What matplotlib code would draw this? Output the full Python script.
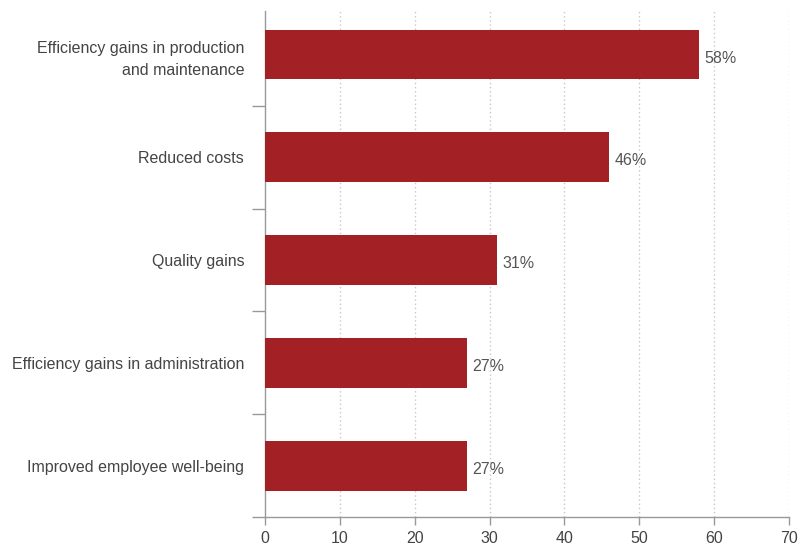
import matplotlib
matplotlib.use('Agg')
import matplotlib.pyplot as plt

categories = ['Efficiency gains in production\nand maintenance',
              'Reduced costs',
              'Quality gains',
              'Efficiency gains in administration',
              'Improved employee well-being']
values = [58, 46, 31, 27, 27]
xticks = [0, 10, 20, 30, 40, 50, 60, 70]

plt.rcParams['font.family'] = ['Liberation Sans', 'DejaVu Sans']

fig = plt.figure(figsize=(7.99, 5.47), dpi=100)
ax = fig.add_axes([265/799, 30/547, 524/799, 506/547])

pos = list(range(len(categories)))
ax.barh(pos, values, height=0.486, color='#a32024', zorder=3)

for p, v in zip(pos, values):
    ax.text(v + 0.7, p + 0.02, str(v) + '%', va='center_baseline', ha='left',
            fontsize=11.5, color='#555555')

ax.set_xlim(0, 70)
ax.set_ylim(4.5, -0.423)
ax.set_xticks(xticks)
ax.set_xticklabels([str(t) for t in xticks], fontsize=11.5, color='#444444')

# category labels sit between the boundary ticks
ax.set_yticks([0.5, 1.5, 2.5, 3.5, 4.5])
ax.set_yticklabels([])
ax.set_yticks(pos, minor=True)
ax.set_yticklabels(categories, minor=True, fontsize=11.5, color='#444444',
                   ha='right', linespacing=1.55)
ax.tick_params(axis='y', which='minor', length=0, pad=15)
ax.tick_params(axis='y', which='major', length=9.5, color='#999999', width=1)
ax.tick_params(axis='x', length=6, color='#999999', width=1, pad=4)

for x in xticks[1:]:
    ax.axvline(x, color='#c8c8c8', linestyle=(0, (1, 2)), linewidth=1, zorder=1)

for s in ['top', 'right']:
    ax.spines[s].set_visible(False)
for s in ['left', 'bottom']:
    ax.spines[s].set_color('#999999')
    ax.spines[s].set_linewidth(1)

fig.savefig('out.png', dpi=100)
